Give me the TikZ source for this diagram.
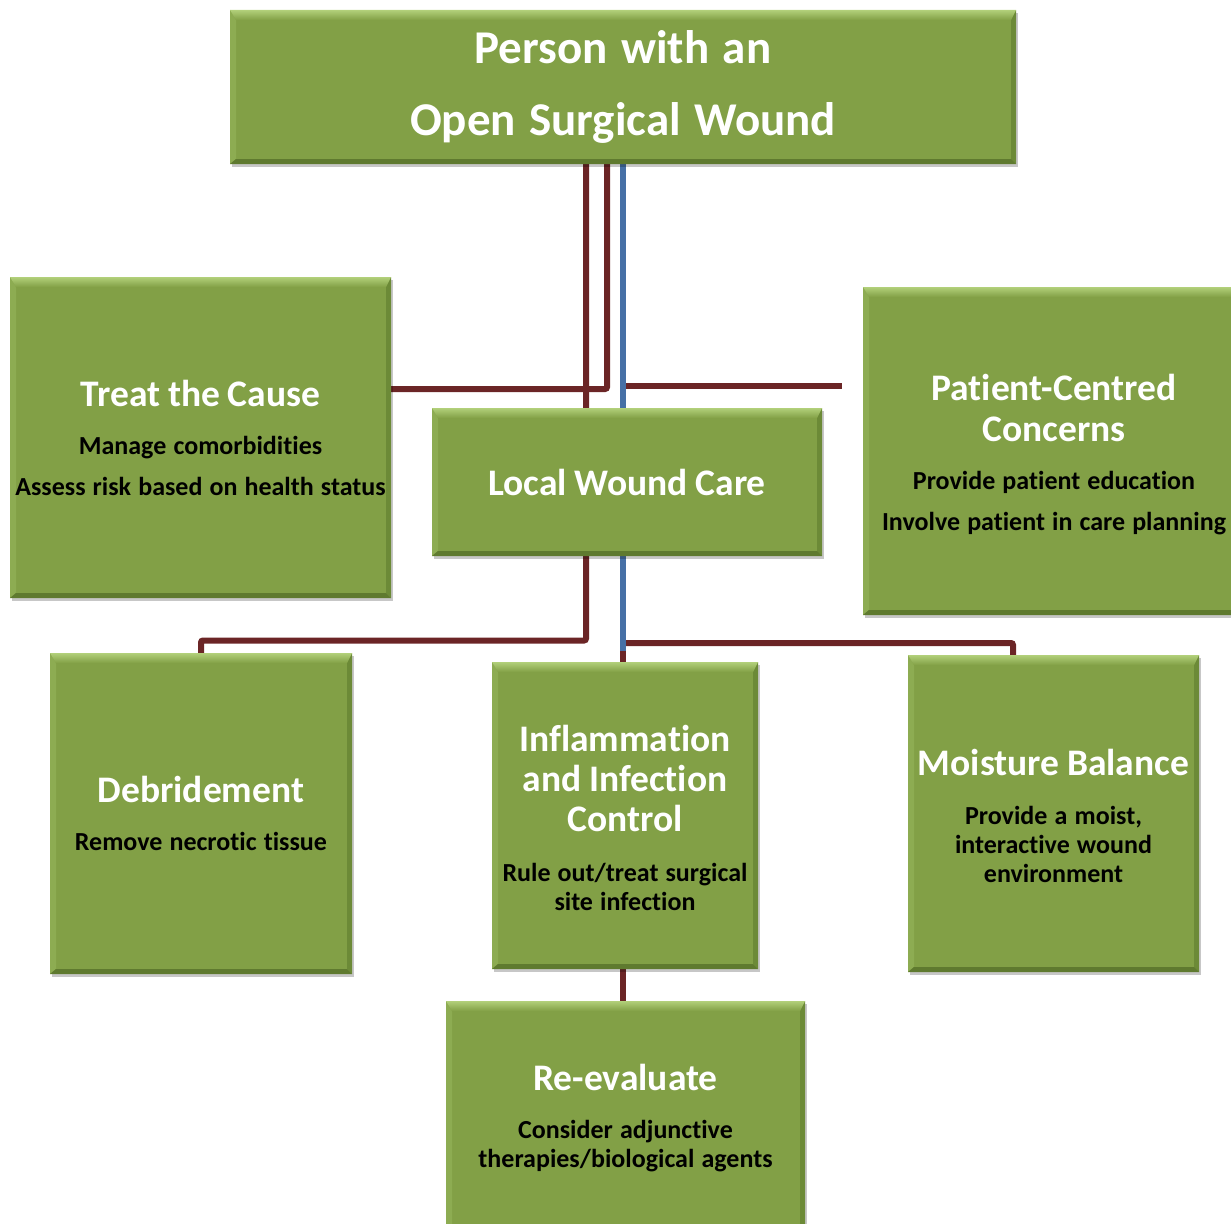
\documentclass[tikz,border=0pt]{standalone}
\usepackage{fontspec}
\setmainfont{Carlito}[Ligatures=NoCommon]
\usetikzlibrary{backgrounds,shadows}
\definecolor{boxgreen}{HTML}{82A046}
\definecolor{bevlight}{HTML}{B2D07A}
\definecolor{bevleft}{HTML}{8DAC52}
\definecolor{bevdark}{HTML}{5F7A2F}
\definecolor{bevright}{HTML}{6C8A37}
\definecolor{linered}{HTML}{6B2526}
\definecolor{lineblue}{HTML}{4670A6}
\newcommand\bevelfill{%
  \path (path picture bounding box.north west) coordinate (bNW)
        (path picture bounding box.north east) coordinate (bNE)
        (path picture bounding box.south west) coordinate (bSW)
        (path picture bounding box.south east) coordinate (bSE);
  \fill[bevleft] (bNW) -- ([xshift=6pt,yshift=-10pt]bNW) -- ([xshift=6pt,yshift=5pt]bSW) -- (bSW) -- cycle;
  \fill[bevright] (bNE) -- ([xshift=-5pt,yshift=-10pt]bNE) -- ([xshift=-5pt,yshift=5pt]bSE) -- (bSE) -- cycle;
  \fill[bevdark] (bSW) -- ([xshift=6pt,yshift=5pt]bSW) -- ([xshift=-5pt,yshift=5pt]bSE) -- (bSE) -- cycle;
  \shade[top color=bevlight, bottom color=boxgreen] (bNW) -- (bNE) -- ([xshift=-5pt,yshift=-10pt]bNE) -- ([xshift=6pt,yshift=-10pt]bNW) -- cycle;
}
\newcommand\setsp[1]{\spaceskip=#1\fontdimen2\font plus 0.02\fontdimen2\font minus 0.02\fontdimen2\font\relax}
\def\spfac{1.2}
\newcommand\subfont{\fontsize{26}{29}\selectfont\bfseries\lineskiplimit=-100pt\lineskip=0pt}
\newcommand\topfont{\fontsize{47}{50}\selectfont\bfseries\lineskiplimit=-100pt\lineskip=0pt}
\newcommand\ttl[1]{{\fontsize{37.5}{29}\selectfont\setsp{0.9}\color{white}#1}}
\newcommand\tpad[2]{\raisebox{0pt}[\dimexpr\height+#1\relax]{#2}}
\tikzset{
  gbox/.style={fill=boxgreen, inner sep=0pt, align=center, font=\subfont, text=black,
    execute at begin node={\setsp{\spfac}},
    path picture={\bevelfill},
    drop shadow={shadow xshift=2pt, shadow yshift=-3pt, fill=black, opacity=0.22}},
  rline/.style={draw=linered, line width=6pt, rounded corners=2pt},
  bline/.style={draw=lineblue, line width=6pt}
}
\begin{document}
\begin{tikzpicture}[x=1pt,y=-1pt]
\useasboundingbox (0,0) rectangle (1231,1223);
\node[gbox, /utils/exec={\def\spfac{1.22}}, font=\topfont, text=white, minimum width=786pt, minimum height=154pt, text width=786pt] (top) at (623,87) {Person with an\\[22pt]Open Surgical Wound};
\node[gbox, minimum width=381pt, minimum height=321pt, text width=381pt] (treat) at (200.5,437.5) {\ttl{Treat the Cause}\\[19pt]Manage comorbidities\\[12pt]Assess risk based on health status};
\node[gbox, minimum width=390pt, minimum height=148pt, text width=390pt] (local) at (627,482) {\ttl{Local Wound Care}};
\node[gbox, minimum width=382pt, minimum height=328pt, text width=382pt] (patient) at (1054,451) {\tpad{8pt}{\ttl{Patient-Centred}}\\[12pt]\ttl{Concerns}\\[19pt]Provide patient education\\[12pt]Involve patient in care planning};
\node[gbox, minimum width=302pt, minimum height=321pt, text width=302pt] (debr) at (201,813.5) {\ttl{Debridement}\\[19pt]Remove necrotic tissue};
\node[gbox, minimum width=266pt, minimum height=307pt, text width=266pt] (infl) at (625,815.5) {\tpad{4pt}{\ttl{Inflammation}}\\[11pt]\ttl{and Infection}\\[11pt]\ttl{Control}\\[21pt]Rule out/treat surgical\\site infection};
\node[gbox, minimum width=291pt, minimum height=317pt, text width=291pt] (moist) at (1053.5,813.5) {\tpad{4pt}{\ttl{Moisture Balance}}\\[20pt]Provide a moist,\\interactive wound\\environment};
\node[gbox, minimum width=359pt, minimum height=234pt, text width=359pt] (reev) at (625.5,1118) {\ttl{Re-evaluate}\\[19pt]Consider adjunctive\\therapies/biological agents};
\coordinate (xA) at (586,0);
\coordinate (xB) at (607,0);
\coordinate (xC) at (623,0);
\coordinate (xM) at (1013,0);
\coordinate (yA) at (0,640.5);
\coordinate (yB) at (0,389);
\coordinate (yP) at (0,386);
\coordinate (yM) at (0,643);
\coordinate (yJ) at (0,651);
\coordinate (pEnd) at (842,386);
\begin{scope}[on background layer]
\draw[rline] (top.south -| xA) |- (yA -| debr.north) -- (debr.north);
\draw[rline] (top.south -| xB) |- (treat.east |- yB);
\draw[rline] (xC |- yM) -| (xM |- moist.north);
\draw[rline] (xC |- yP) -- (pEnd);
\draw[rline] (xC |- yJ) -- (infl.north -| xC);
\draw[rline] (infl.south -| xC) -- (reev.north -| xC);
\draw[bline] (top.south -| xC) -- (xC |- yJ);
\end{scope}
\end{tikzpicture}
\end{document}
